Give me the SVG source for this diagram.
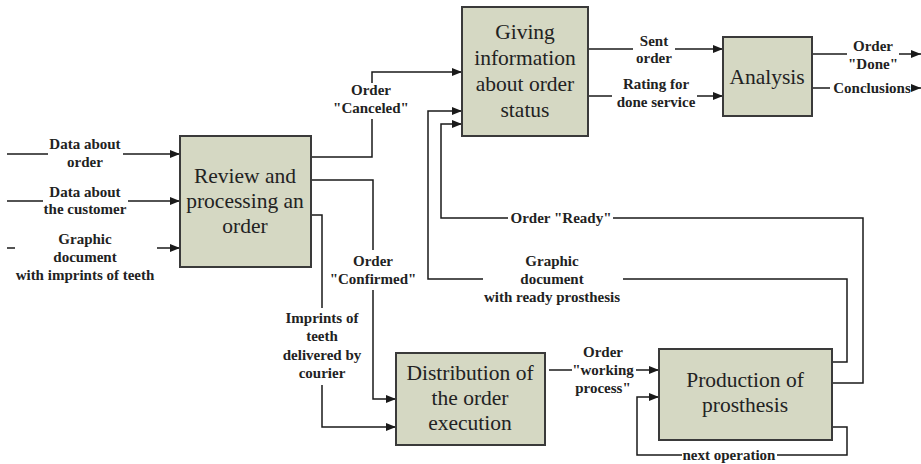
<svg xmlns="http://www.w3.org/2000/svg" width="921" height="464" viewBox="0 0 921 464">
<defs>
<marker id="arr" markerUnits="userSpaceOnUse" markerWidth="11" markerHeight="9" refX="10" refY="4" orient="auto">
<path d="M0,0 L10,4 L0,8 z" fill="#1a1a1a"/>
</marker>
<style>
.box{fill:#d5d8c3;stroke:#3a3a3a;stroke-width:2}
.bt{font-family:"Liberation Serif","Times New Roman",serif;font-size:21.5px;fill:#222;text-anchor:middle}
.lb{font-family:"Liberation Serif","Times New Roman",serif;font-size:15px;font-weight:bold;fill:#222;text-anchor:middle}
.ln{fill:none;stroke:#1a1a1a;stroke-width:1.5}
.ar{marker-end:url(#arr)}
</style>
</defs>
<rect width="921" height="464" fill="#fff"/>
<g id="connectors">
<line class="ln" x1="7" y1="154" x2="48" y2="154"/>
<line class="ln ar" x1="123" y1="154" x2="180" y2="154"/>
<line class="ln" x1="7" y1="201" x2="43" y2="201"/>
<line class="ln ar" x1="128" y1="201" x2="180" y2="201"/>
<line class="ln" x1="7" y1="248" x2="15" y2="248"/>
<line class="ln ar" x1="157" y1="248" x2="180" y2="248"/>
<polyline class="ln" points="311,157 372,157 372,119"/>
<polyline class="ln ar" points="372,83 372,72 462,72"/>
<polyline class="ln" points="311,180 373,180 373,250"/>
<polyline class="ln ar" points="373,290 373,399 396,399"/>
<polyline class="ln" points="311,215 322,215 322,308"/>
<polyline class="ln ar" points="322,385 322,427 396,427"/>
<line class="ln" x1="588" y1="49" x2="633" y2="49"/>
<line class="ln ar" x1="675" y1="49" x2="723" y2="49"/>
<line class="ln" x1="588" y1="96" x2="612" y2="96"/>
<line class="ln ar" x1="697" y1="96" x2="723" y2="96"/>
<line class="ln" x1="812" y1="54" x2="847" y2="54"/>
<line class="ln ar" x1="899" y1="54" x2="921" y2="54"/>
<line class="ln" x1="812" y1="88" x2="830" y2="88"/>
<line class="ln ar" x1="912" y1="88" x2="921" y2="88"/>
<line class="ln" x1="549" y1="370" x2="572" y2="370"/>
<line class="ln ar" x1="636" y1="370" x2="659" y2="370"/>
<polyline class="ln" points="832,362 847,362 847,279 623,279"/>
<polyline class="ln ar" points="483,279 428,279 428,111 462,111"/>
<polyline class="ln" points="832,383 863,383 863,218 613,218"/>
<polyline class="ln ar" points="508,218 441,218 441,124 462,124"/>
<polyline class="ln" points="832,427 847,427 847,455 777,455"/>
<polyline class="ln ar" points="682,455 637,455 637,397 659,397"/>
</g>
<g id="labels">
<text class="lb" x="85" y="149">Data about</text>
<text class="lb" x="85" y="167">order</text>
<text class="lb" x="85" y="197">Data about</text>
<text class="lb" x="85" y="214">the customer</text>
<text class="lb" x="85" y="244">Graphic</text>
<text class="lb" x="85" y="262">document</text>
<text class="lb" x="85" y="280">with imprints of teeth</text>
<text class="lb" x="371" y="95">Order</text>
<text class="lb" x="371" y="113">"Canceled"</text>
<text class="lb" x="373" y="266">Order</text>
<text class="lb" x="373" y="284">"Confirmed"</text>
<text class="lb" x="322" y="323">Imprints of</text>
<text class="lb" x="322" y="341">teeth</text>
<text class="lb" x="322" y="360">delivered by</text>
<text class="lb" x="322" y="378">courier</text>
<text class="lb" x="552" y="266">Graphic</text>
<text class="lb" x="552" y="284">document</text>
<text class="lb" x="552" y="302">with ready prosthesis</text>
<text class="lb" x="561" y="223">Order "Ready"</text>
<text class="lb" x="654" y="46">Sent</text>
<text class="lb" x="654" y="63">order</text>
<text class="lb" x="656" y="89">Rating for</text>
<text class="lb" x="656" y="107">done service</text>
<text class="lb" x="873" y="51">Order</text>
<text class="lb" x="873" y="69">"Done"</text>
<text class="lb" x="872" y="93">Conclusions</text>
<text class="lb" x="603" y="357">Order</text>
<text class="lb" x="603" y="375">"working</text>
<text class="lb" x="603" y="393">process"</text>
<text class="lb" x="729" y="460">next operation</text>
</g>
<g id="review">
<rect class="box" x="180" y="136" width="131" height="131"/>
<text class="bt" x="245" y="183">Review and</text>
<text class="bt" x="245" y="208">processing an</text>
<text class="bt" x="245" y="233">order</text>
</g>
<g id="giving">
<rect class="box" x="462" y="7" width="126" height="129"/>
<text class="bt" x="525" y="39">Giving</text>
<text class="bt" x="525" y="65">information</text>
<text class="bt" x="525" y="91">about order</text>
<text class="bt" x="525" y="117">status</text>
</g>
<g id="analysis">
<rect class="box" x="723" y="37" width="89" height="79"/>
<text class="bt" x="767" y="84">Analysis</text>
</g>
<g id="distribution">
<rect class="box" x="396" y="353" width="149" height="92"/>
<text class="bt" x="470" y="380">Distribution of</text>
<text class="bt" x="470" y="405">the order</text>
<text class="bt" x="470" y="430">execution</text>
</g>
<g id="production">
<rect class="box" x="659" y="349" width="173" height="91"/>
<text class="bt" x="745" y="387">Production of</text>
<text class="bt" x="745" y="412">prosthesis</text>
</g>
</svg>
